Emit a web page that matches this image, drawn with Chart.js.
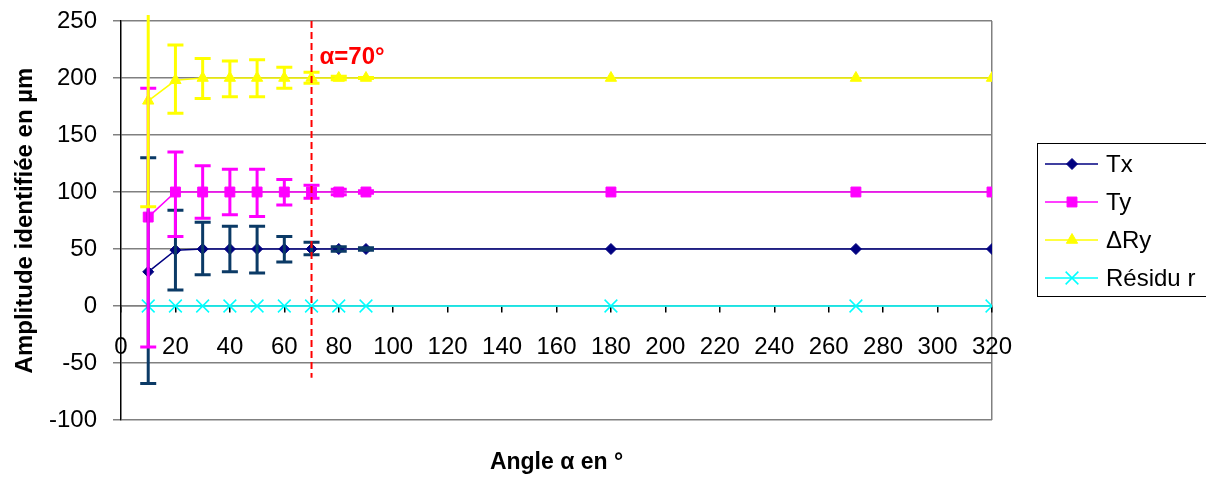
<!DOCTYPE html>
<html>
<head>
<meta charset="utf-8">
<script src="https://cdn.jsdelivr.net/npm/chart.js@4"></script>
<style>
	body { margin: 0; background: #fff; }
	#wrap { position: relative; width: 1206px; height: 477px; }
</style>
</head>
<body>
<div id="wrap"><canvas id="chart"></canvas></div>
<script>
const angles = [10, 20, 30, 40, 50, 60, 70, 80, 90, 180, 270, 320];

const tx = [30, 49, 50, 50, 50, 50, 50, 50, 50, 50, 50, 50];
const txLow = [-68, 14, 27.5, 30, 29, 38.5, 45, 48, 49, null, null, null];
const txHigh = [130, 84, 73.5, 70, 70, 61, 56, 52, 51, null, null, null];

const ty = [78, 100, 100, 100, 100, 100, 100, 100, 100, 100, 100, 100];
const tyLow = [-36, 61, 77, 80, 78.5, 88.5, 94.5, 97.5, 99, null, null, null];
const tyHigh = [191, 135, 123, 120, 120, 111, 106, 102.5, 101, null, null, null];

const ry = [180, 198, 200, 200, 200, 200, 200, 200, 200, 200, 200, 200];
const ryLow = [87, 169, 182, 183.5, 183.5, 191, 195.5, 198.5, 199.5, null, null, null];
const ryHigh = [273, 229, 217, 215, 216, 209.5, 205, 201.5, 200.5, null, null, null];

const residu = [0, 0, 0, 0, 0, 0, 0, 0, 0, 0, 0, 0];

const seriesNames = ['Tx', 'Ty', '\u0394Ry', 'R\u00e9sidu r'];
const xTicks = { min: 0, max: 320, step: 20 };
const yTicks = { min: -100, max: 250, step: 50 };
const markerAngle = 70;
const markerLineEnd = -63;

const font = '"Liberation Sans", Arial, sans-serif';

function pts(ys) {
	return angles.map((a, i) => ({ x: a, y: ys[i] }));
}

const errorBars = [
	{ low: txLow, high: txHigh, color: '#0b3a66' },
	{ low: tyLow, high: tyHigh, color: '#ff00ff' },
	{ low: ryLow, high: ryHigh, color: '#ffff00' },
];

const errorBarPlugin = {
	id: 'errorBars',
	afterDatasetsDraw(chart) {
		const { ctx, chartArea, scales } = chart;
		ctx.save();
		ctx.beginPath();
		ctx.rect(chartArea.left - 20, chartArea.top - 6, chartArea.width + 40, chartArea.height + 6);
		ctx.clip();
		ctx.lineWidth = 3;
		errorBars.forEach((bar) => {
			ctx.strokeStyle = bar.color;
			angles.forEach((a, i) => {
				if (bar.low[i] == null) return;
				const x = scales.x.getPixelForValue(a);
				const y1 = scales.y.getPixelForValue(bar.low[i]);
				const y2 = scales.y.getPixelForValue(bar.high[i]);
				ctx.beginPath();
				ctx.moveTo(x, y1);
				ctx.lineTo(x, y2);
				ctx.moveTo(x - 8, y1);
				ctx.lineTo(x + 8, y1);
				ctx.moveTo(x - 8, y2);
				ctx.lineTo(x + 8, y2);
				ctx.stroke();
			});
		});
		ctx.restore();
	},
};

const extrasPlugin = {
	id: 'extras',
	afterDraw(chart) {
		const { ctx, chartArea, scales } = chart;
		ctx.save();

		// dashed line at alpha = 70
		const xm = scales.x.getPixelForValue(markerAngle);
		ctx.strokeStyle = '#ff0000';
		ctx.lineWidth = 2;
		ctx.setLineDash([7, 4]);
		ctx.beginPath();
		ctx.moveTo(xm, chartArea.top);
		ctx.lineTo(xm, scales.y.getPixelForValue(markerLineEnd));
		ctx.stroke();
		ctx.setLineDash([]);
		ctx.fillStyle = '#ff0000';
		ctx.font = 'bold 24px ' + font;
		ctx.textAlign = 'left';
		ctx.textBaseline = 'middle';
		ctx.fillText('\u03b1=70\u00b0', xm + 8, scales.y.getPixelForValue(218));

		// x title
		ctx.fillStyle = '#000';
		ctx.font = 'bold 23px ' + font;
		ctx.textAlign = 'center';
		ctx.fillText('Angle \u03b1 en \u00b0', (chartArea.left + chartArea.right) / 2, 463);

		// legend
		ctx.strokeStyle = '#000';
		ctx.lineWidth = 1;
		ctx.strokeRect(1037.5, 143.5, 172, 153);
		ctx.font = '24px ' + font;
		ctx.textAlign = 'left';
		chart.data.datasets.forEach((ds, i) => {
			const y = 164 + i * 38;
			ctx.strokeStyle = ds.borderColor;
			ctx.lineWidth = 1.5;
			ctx.beginPath();
			ctx.moveTo(1045, y);
			ctx.lineTo(1098, y);
			ctx.stroke();
			ctx.fillStyle = ds.pointBackgroundColor;
			ctx.strokeStyle = ds.pointBorderColor;
			ctx.lineWidth = ds.pointBorderWidth;
			Chart.helpers.drawPoint(ctx, {
				pointStyle: ds.pointStyle,
				radius: ds.pointRadius,
				borderWidth: ds.pointBorderWidth,
				rotation: 0,
			}, 1072, y);
			ctx.fillStyle = '#000';
			ctx.fillText(seriesNames[i], 1106, y + 1);
		});
		ctx.restore();
	},
};

function makeSet(label, data, color, style, radius) {
	return {
		label,
		data: pts(data),
		borderColor: color,
		backgroundColor: color,
		pointBackgroundColor: color,
		pointBorderColor: color,
		pointStyle: style,
		pointRadius: radius,
		pointBorderWidth: style === 'crossRot' ? 1.5 : 1,
		borderWidth: 1.5,
		tension: 0,
	};
}

const ctx = document.getElementById('chart').getContext('2d');
const chart = new Chart(ctx, {
	type: 'line',
	data: {
		datasets: [
			makeSet(seriesNames[0], tx, '#000080', 'rectRot', 5.5),
			makeSet(seriesNames[1], ty, '#ff00ff', 'rect', 7),
			makeSet(seriesNames[2], ry, '#ffff00', 'triangle', 6.5),
			makeSet(seriesNames[3], residu, '#00ffff', 'crossRot', 9),
		],
	},
	options: {
		responsive: true,
		maintainAspectRatio: false,
		animation: false,
		layout: { padding: { top: 0, right: 214, bottom: 57, left: 0 } },
		plugins: { legend: { display: false }, tooltip: { enabled: false } },
		scales: {
			x: {
				type: 'linear',
				position: { y: 0 },
				min: xTicks.min,
				max: xTicks.max,
				afterFit(scale) { scale.height = 0; },
				ticks: {
					stepSize: xTicks.step,
					color: '#000',
					padding: 21,
					maxRotation: 0,
					font: { family: font, size: 24 },
				},
				grid: {
					color: (c) => (c.tick && c.tick.value === xTicks.max ? '#808080' : 'rgba(0,0,0,0)'),
					lineWidth: 1.5,
					tickColor: '#000',
					tickLength: 6,
				},
				border: { color: '#808080', width: 1.5 },
			},
			y: {
				min: yTicks.min,
				max: yTicks.max,
				afterFit(scale) {
					scale.width = 121;
					scale.paddingTop = 21;
					scale.paddingBottom = 0;
				},
				ticks: {
					stepSize: yTicks.step,
					color: '#000',
					padding: 16,
					font: { family: font, size: 24 },
				},
				grid: { color: '#808080', lineWidth: 1.5, tickLength: 8 },
				border: { color: '#000', width: 1.5 },
				title: {
					display: true,
					text: 'Amplitude identifi\u00e9e en \u00b5m',
					color: '#000',
					font: { family: font, size: 24, weight: 'bold' },
					padding: { top: 11, bottom: 0 },
				},
			},
		},
	},
	plugins: [errorBarPlugin, extrasPlugin],
});
</script>
</body>
</html>
